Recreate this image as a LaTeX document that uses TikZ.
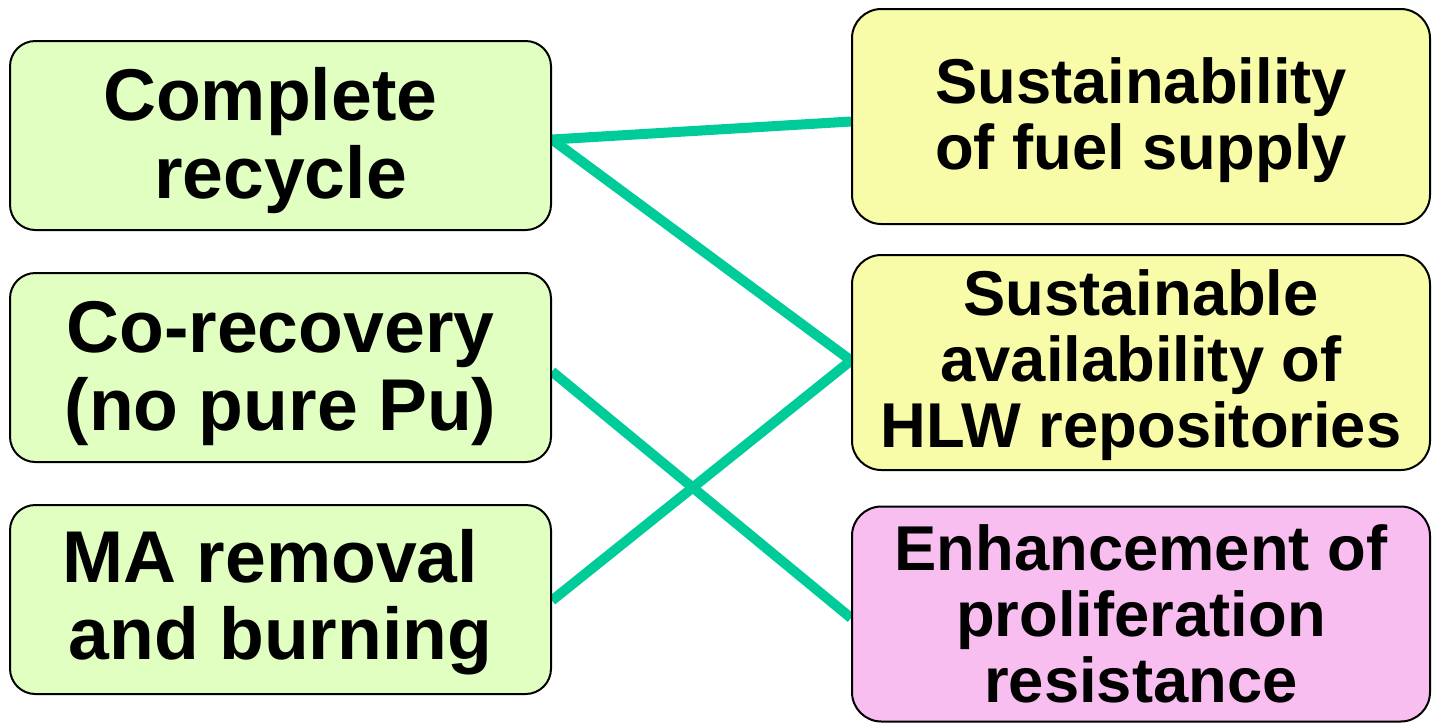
\documentclass[tikz,border=0pt]{standalone}
\usepackage{fontspec}
\setmainfont{Liberation Sans}
\usetikzlibrary{backgrounds,calc}
\definecolor{leftfill}{HTML}{E0FFC0}
\definecolor{yelfill}{HTML}{F8FCA8}
\definecolor{pinkfill}{HTML}{F9BEF0}
\definecolor{linkcol}{HTML}{00CC99}
\newcommand{\tsp}{\hspace*{0.28em}}
\tikzset{
  leftbox/.style={draw=black, line width=1.5pt, fill=leftfill, rounded corners=19pt,
    minimum width=541*0.75pt, minimum height=189*0.75pt, inner sep=0pt, align=center,
    font=\bfseries\fontsize{55}{58}\selectfont},
  rightbox/.style={draw=black, line width=1.5pt, rounded corners=22pt,
    minimum width=578*0.75pt, minimum height=215*0.75pt, inner sep=0pt, align=center,
    font=\bfseries\fontsize{47.5}{49.5}\selectfont},
  link/.style={draw=linkcol, line width=7.5pt}
}
\begin{document}
\begin{tikzpicture}[x=0.75pt,y=-0.75pt]
\useasboundingbox (0,0) rectangle (1432,722);
\node[leftbox] (L1) at (280.5,135.5) {};
\node[leftbox] (L2) at (280.5,367.5) {};
\node[leftbox] (L3) at (280.5,599.5) {};
\node[rightbox, fill=yelfill] (R1) at (1141,116.5) {};
\node[rightbox, fill=yelfill] (R2) at (1141,362.5) {};
\node[rightbox, fill=pinkfill] (R3) at (1141,614) {};
\node[font=\bfseries\fontsize{55}{58}\selectfont, align=center] (T1) at ($(L1.center)+(0,5)$) {Complete\tsp\\recycle};
\node[font=\bfseries\fontsize{55}{58}\selectfont, align=center] (T2) at ($(L2.center)+(0,6)$) {Co-recovery\\(no pure Pu)};
\node[font=\bfseries\fontsize{55}{58}\selectfont, align=center] (T3) at ($(L3.center)+(0,3)$) {MA removal\tsp\\and burning};
\node[font=\bfseries\fontsize{47.5}{49.5}\selectfont, align=center] (T4) at ($(R1.center)+(0,4)$) {Sustainability\\of fuel supply};
\node[font=\bfseries\fontsize{47.5}{49.5}\selectfont, align=center] (T5) at ($(R2.center)+(0,3)$) {Sustainable\\availability of\\HLW repositories};
\node[font=\bfseries\fontsize{47.5}{49.5}\selectfont, align=center] (T6) at ($(R3.center)+(0,0)$) {Enhancement of\\proliferation\\resistance};
\begin{scope}[on background layer]
\draw[link] ($(L1.east)+(0,4)$) -- ($(R1.west)+(0,5)$);
\draw[link] ($(L1.east)+(0,4)$) -- ($(R2.west)+(0,-2)$);
\draw[link] ($(L2.east)+(0,4)$) -- ($(R3.west)+(0,4)$);
\draw[link] ($(L3.east)+(0,1)$) -- ($(R2.west)+(0,-2)$);
\end{scope}
\end{tikzpicture}
\end{document}
